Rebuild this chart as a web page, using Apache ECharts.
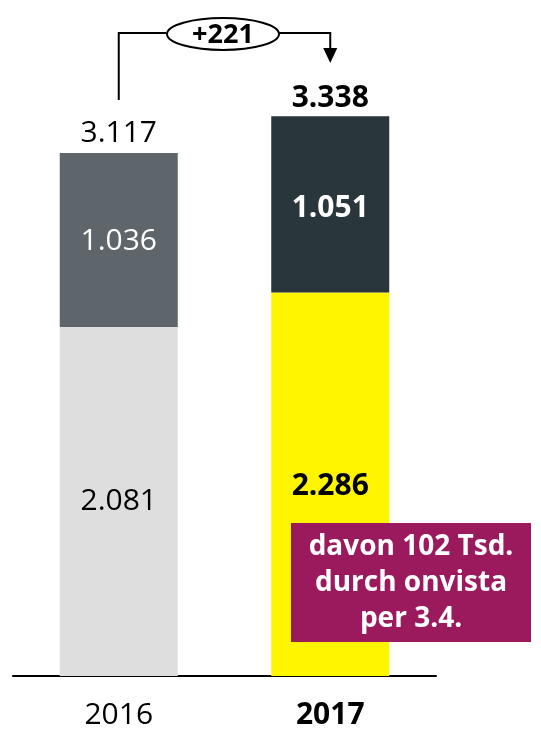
<!DOCTYPE html>
<html>
<head>
<meta charset="utf-8">
<script src="https://cdn.jsdelivr.net/npm/echarts@6/dist/echarts.min.js"></script>
<style>
  html, body { margin: 0; padding: 0; background: #fff; }
  #chart { width: 541px; height: 730px; }
</style>
</head>
<body>
<div id="chart"></div>
<script>
const years = ['2016', '2017']
const baseValues = [2081, 2286]
const topValues = [1036, 1051]
const totals = [3117, 3338]
const delta = '+221'
const noteLines = ['davon 102 Tsd.', 'durch onvista', 'per 3.4.']

const fmt = v => String(v).replace(/(\d)(\d{3})$/, '$1.$2')
const font = '"Open Sans", "Noto Sans", sans-serif'

const chart = echarts.init(document.getElementById('chart'))

chart.setOption({
  animation: false,
  textStyle: { fontFamily: font },
  grid: { left: 13, right: 105, top: 5, bottom: 54 },
  xAxis: {
    type: 'category',
    data: years,
    axisLine: { lineStyle: { color: '#000', width: 2 } },
    axisTick: { show: false },
    axisLabel: {
      margin: 24,
      fontSize: 30,
      color: '#000',
      formatter: (v, i) => i === 1 ? '{b|' + v + '}' : v,
      rich: { b: { fontSize: 30, fontWeight: 'bold', color: '#000', fontFamily: font } }
    }
  },
  yAxis: { type: 'value', min: 0, max: 4000, show: false, splitLine: { show: false } },
  series: [
    {
      type: 'bar',
      stack: 'a',
      barWidth: 118,
      data: baseValues.map((v, i) => ({
        value: v,
        itemStyle: { color: i === 0 ? '#dedede' : '#fff500' },
        label: { fontWeight: i === 0 ? 'normal' : 'bold', offset: [0, i === 0 ? 0 : 2] }
      })),
      label: {
        show: true,
        position: 'inside',
        fontSize: 30,
        color: '#000',
        formatter: p => fmt(p.value)
      }
    },
    {
      type: 'bar',
      stack: 'a',
      data: topValues.map((v, i) => ({
        value: v,
        itemStyle: { color: i === 0 ? '#5e666b' : '#29363b' },
        label: { fontWeight: i === 0 ? 'normal' : 'bold', offset: [0, i === 0 ? 1 : 4] }
      })),
      label: {
        show: true,
        position: 'inside',
        fontSize: 30,
        color: '#fff',
        formatter: p => fmt(p.value)
      }
    },
    {
      type: 'bar',
      stack: 'a',
      data: totals.map((v, i) => ({
        value: 0,
        label: { fontWeight: i === 0 ? 'normal' : 'bold', distance: i === 0 ? 5 : 3 }
      })),
      label: {
        show: true,
        position: 'top',
        fontSize: 30,
        color: '#000',
        formatter: p => fmt(totals[p.dataIndex])
      }
    }
  ]
})

// bracket with delta and the note box
const p0 = chart.convertToPixel({ gridIndex: 0 }, [0, totals[0]])
const p1 = chart.convertToPixel({ gridIndex: 0 }, [1, totals[1]])
const yLine = 33
const ellCx = 223
const ellRx = 56
const ellRy = 16

chart.setOption({
  graphic: [
    {
      type: 'polyline', z: 100,
      shape: { points: [[p0[0], p0[1] - 53], [p0[0], yLine], [ellCx - ellRx, yLine]] },
      style: { stroke: '#000', lineWidth: 2, fill: null }
    },
    {
      type: 'polyline', z: 100,
      shape: { points: [[ellCx + ellRx, yLine], [p1[0], yLine], [p1[0], p1[1] - 66]] },
      style: { stroke: '#000', lineWidth: 2, fill: null }
    },
    {
      type: 'polygon', z: 100,
      shape: { points: [[p1[0] - 7, p1[1] - 68], [p1[0] + 7, p1[1] - 68], [p1[0], p1[1] - 53]] },
      style: { fill: '#000' }
    },
    {
      type: 'ellipse', z: 100,
      shape: { cx: ellCx, cy: yLine + 1, rx: ellRx, ry: ellRy },
      style: { fill: '#fff', stroke: '#000', lineWidth: 2 }
    },
    {
      type: 'text', z: 101,
      x: ellCx, y: yLine + 2,
      style: {
        text: delta, fill: '#000', font: 'bold 27px ' + font,
        align: 'center', verticalAlign: 'middle'
      }
    },
    {
      type: 'rect', z: 100,
      shape: { x: 291, y: 523, width: 240, height: 119 },
      style: { fill: '#9b1a5d' }
    },
    {
      type: 'text', z: 101,
      x: 411, y: 583,
      style: {
        text: noteLines.join('\n'), fill: '#fff', font: 'bold 28px ' + font,
        lineHeight: 36, align: 'center', verticalAlign: 'middle'
      }
    }
  ]
})
</script>
</body>
</html>
